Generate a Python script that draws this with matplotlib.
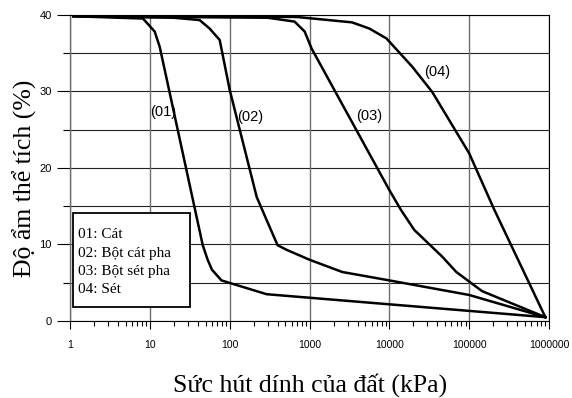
import matplotlib
matplotlib.use("Agg")
import matplotlib.pyplot as plt
from matplotlib.patches import Rectangle
from matplotlib.ticker import LogLocator, FixedLocator, FuncFormatter, NullFormatter

# Soil-water characteristic curves (suction kPa vs volumetric water content %)
suction_01 = [1.1, 8.2, 11.5, 13.3, 46, 53, 60, 79, 290, 900000]
theta_01 = [39.8, 39.5, 37.8, 35.8, 9.9, 8.0, 6.7, 5.3, 3.5, 0.5]

suction_02 = [1.1, 20, 42, 56, 75, 100, 218, 290, 398, 516, 1000, 2570, 10000, 100000, 900000]
theta_02 = [39.8, 39.6, 39.3, 38.2, 36.7, 30.2, 16.2, 13.2, 9.9, 9.3, 8.0, 6.4, 5.3, 3.4, 0.5]

suction_03 = [1.1, 300, 650, 870, 1060, 10000, 14000, 20500, 46000, 69000, 145000, 900000]
theta_03 = [39.8, 39.6, 39.1, 37.8, 35.6, 17.1, 14.5, 11.9, 8.4, 6.4, 3.9, 0.5]

suction_04 = [1.1, 700, 3400, 5600, 9200, 19400, 34500, 100000, 205000, 900000]
theta_04 = [39.9, 39.7, 39.0, 38.2, 36.9, 33.2, 29.9, 21.9, 14.6, 0.5]

curve_labels = ["(01)", "(02)", "(03)", "(04)"]
label_x = [14.5, 183, 5623, 39260]
label_y = [27.3, 26.6, 26.8, 32.5]

legend_lines = ["01: Cát", "02: Bột cát pha", "03: Bột sét pha", "04: Sét"]

x_major = [1, 10, 100, 1000, 10000, 100000, 1000000]
y_major = [0, 10, 20, 30, 40]
y_minor = [5, 15, 25, 35]

sans = "Liberation Sans"
serif = "Liberation Serif"

fig = plt.figure(figsize=(5.72, 3.98), dpi=100)
fig.patch.set_facecolor("white")
ax = fig.add_axes([70 / 572, 1 - 321 / 398, 479 / 572, 306.3 / 398])

# grid: dark horizontals every 5, grey verticals every decade
for yv in y_major + y_minor:
    ax.axhline(yv, color="#222222", lw=0.8, zorder=1)
for xv in x_major:
    ax.axvline(xv, color="#6e6e6e", lw=1.0, zorder=1)

for xs, ys in [(suction_01, theta_01), (suction_02, theta_02),
               (suction_03, theta_03), (suction_04, theta_04)]:
    ax.plot(xs, ys, color="black", lw=1.8, solid_joinstyle="round", zorder=3)

for txt, lx, ly in zip(curve_labels, label_x, label_y):
    ax.text(lx, ly, txt, ha="center", va="center", fontsize=10.5, family=sans, zorder=4)

ax.set_xscale("log")
ax.set_xlim(1, 1000000)
ax.set_ylim(0, 40)

ax.xaxis.set_major_locator(FixedLocator(x_major))
ax.xaxis.set_minor_locator(LogLocator(base=10, subs=range(2, 10), numticks=20))
ax.xaxis.set_major_formatter(FuncFormatter(lambda v, p: f"{int(round(v))}"))
ax.xaxis.set_minor_formatter(NullFormatter())
ax.yaxis.set_major_locator(FixedLocator(y_major))
ax.yaxis.set_minor_locator(FixedLocator(y_minor))

ax.tick_params(axis="x", which="major", direction="out", length=6, width=0.8, pad=8, labelsize=7.5)
ax.tick_params(axis="x", which="minor", direction="out", length=3.5, width=0.8)
ax.tick_params(axis="y", which="major", direction="out", length=9.5, width=0.8, pad=3.5, labelsize=8)
ax.tick_params(axis="y", which="minor", direction="out", length=5, width=0.8)
for lab in ax.get_xticklabels() + ax.get_yticklabels():
    lab.set_family(sans)

for side in ["top", "right", "bottom"]:
    ax.spines[side].set_color("black")
    ax.spines[side].set_linewidth(0.8)
ax.spines["left"].set_color("#6e6e6e")
ax.spines["left"].set_linewidth(1.0)

# legend box with the soil names
ax.add_patch(Rectangle((0.006, 0.0457), 0.2445, 0.3069, transform=ax.transAxes,
                       facecolor="white", edgecolor="black", lw=1.3, zorder=5))
for txt, yb in zip(legend_lines, [0.270, 0.210, 0.150, 0.0904]):
    ax.text(0.0167, yb, txt, transform=ax.transAxes, ha="left", va="baseline",
            fontsize=11, family=serif, zorder=6)

fig.text(310 / 572, 1 - 385 / 398, "Sức hút dính của đất (kPa)", ha="center", va="center",
         fontsize=18.5, family=serif)
fig.text(25 / 572, 1 - 178 / 398, "Độ ẩm thể tích (%)", ha="center", va="center",
         rotation=90, fontsize=18.5, family=serif)

fig.savefig("out.png", dpi=100, facecolor="white")
